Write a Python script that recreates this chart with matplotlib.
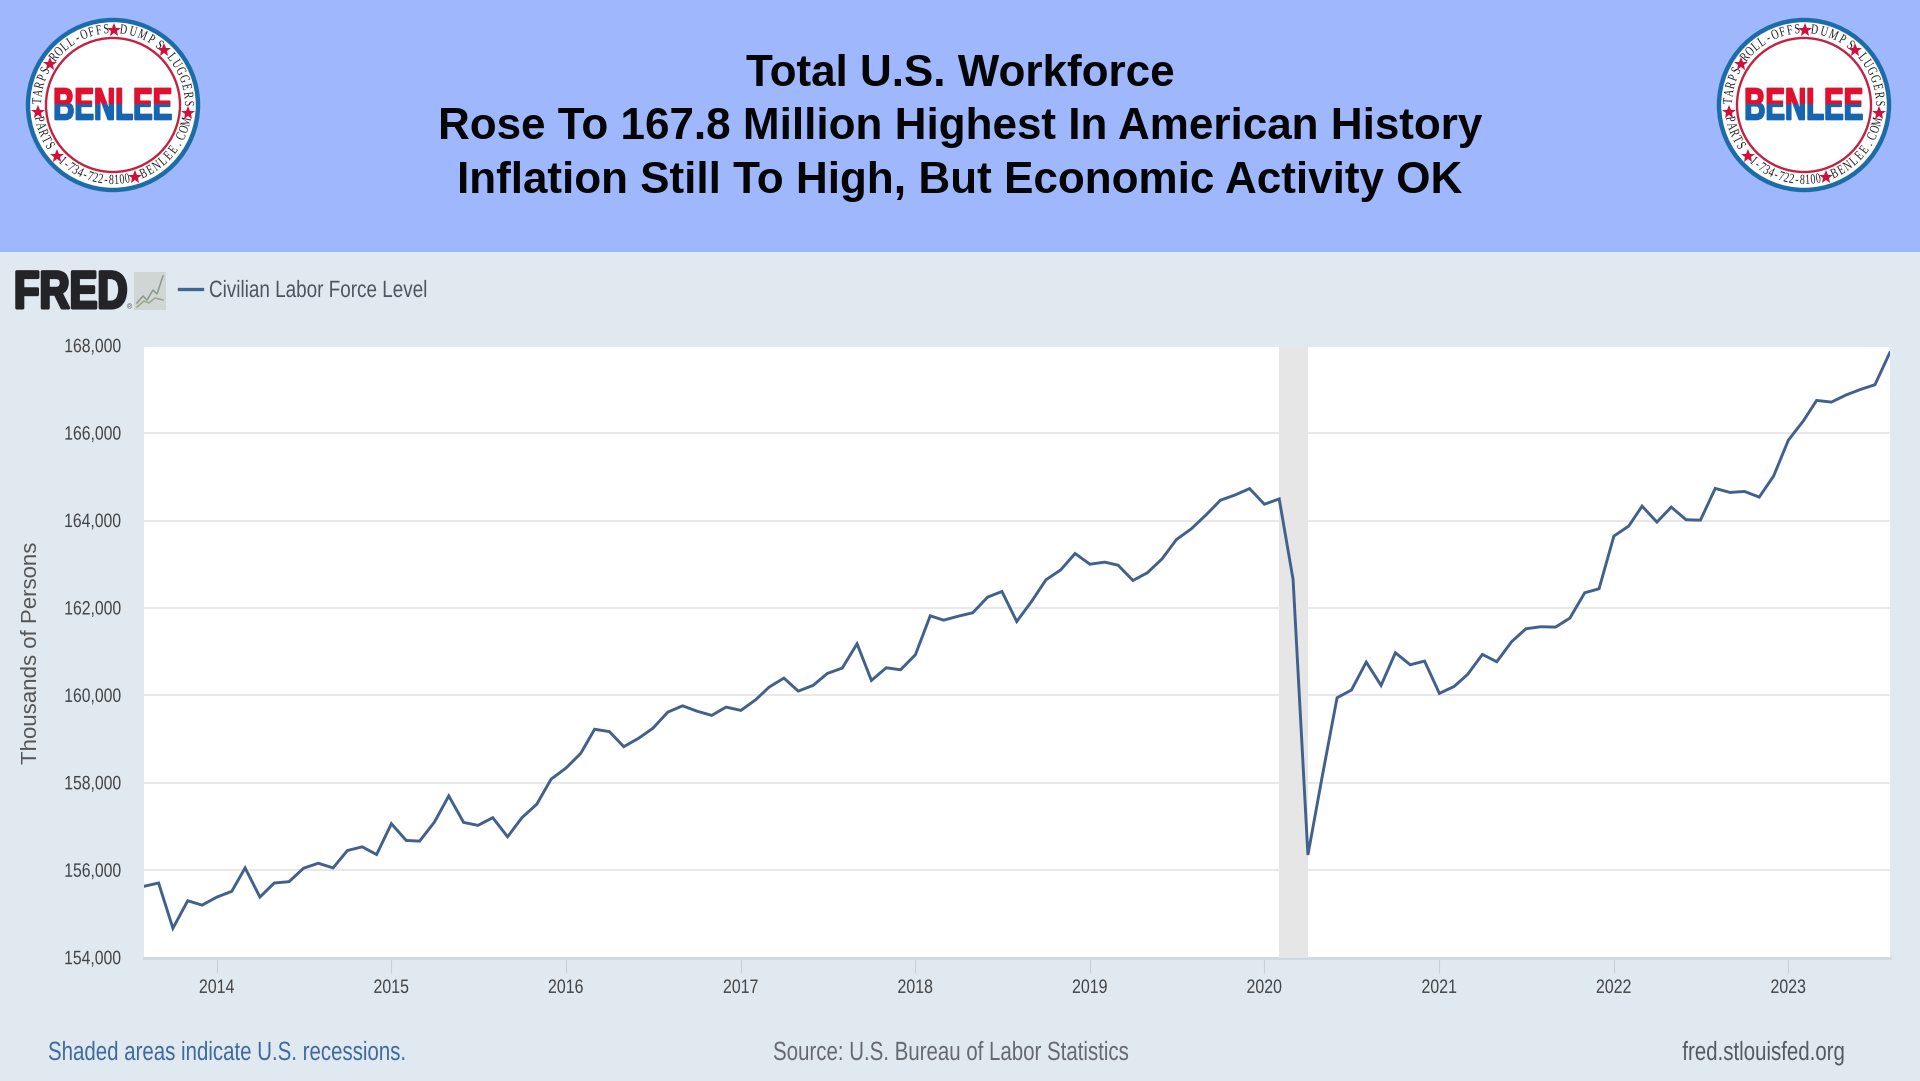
# Total U.S. workforce slide: FRED civilian labor force chart with a BENLEE header
import numpy as np
import pandas as pd
import matplotlib
matplotlib.use('Agg')
import matplotlib.pyplot as plt
from matplotlib.patches import Circle, Rectangle
from matplotlib.patheffects import AbstractPathEffect
from matplotlib.transforms import Affine2D, Bbox

# monthly values, thousands of persons, Aug 2013 - Aug 2023
labor_force = [
    155632, 155709, 154674, 155303, 155203, 155387, 155517, 156054, 155387, 155709, 155739,
    156046, 156161, 156054, 156452, 156536, 156360, 157065, 156682, 156667, 157103, 157701,
    157095, 157027, 157203, 156766, 157203, 157510, 158084, 158337, 158674, 159226, 159172,
    158828, 159019, 159249, 159617, 159762, 159640, 159543, 159733, 159657, 159901, 160190,
    160396, 160099, 160229, 160503, 160625, 161181, 160343, 160632, 160587, 160930, 161821,
    161722, 161813, 161890, 162248, 162377, 161691, 162149, 162644, 162872, 163246, 163002,
    163048, 162979, 162629, 162804, 163124, 163566, 163810, 164130, 164465, 164587, 164731,
    164373, 164495, 162650, 156350, 158150, 159947, 160122, 160762, 160229, 160976, 160701,
    160785, 160046, 160206, 160480, 160938, 160770, 161228, 161525, 161571, 161563, 161769,
    162348, 162440, 163645, 163873, 164330, 163965, 164308, 164018, 164010, 164735, 164643,
    164666, 164537, 165017, 165840, 166275, 166748, 166710, 166870, 167000, 167107, 167838,
]
dates = pd.date_range('2013-08-01', periods=len(labor_force), freq='MS')
year_ticks = pd.to_datetime(['%d-01-01' % y for y in range(2014, 2024)])
year_labels = [str(y) for y in range(2014, 2024)]
y_ticks = [154000, 156000, 158000, 160000, 162000, 164000, 166000, 168000]
recession = ['2020-02-01', '2020-04-01']

title_lines = ['Total U.S. Workforce',
               'Rose To 167.8 Million Highest In American History',
               'Inflation Still To High, But Economic Activity OK']
# logo ring words: text, start angle, end angle
ring_words = [('TARPS', 177, 153), ('ROLL-OFFS', 141, 95), ('DUMPS', 82, 52), ('LUGGERS', 39, 1),
              ('BENLEE.COM', -66, -13), ('1-734-722-8100', -132, -79), ('PARTS', -169, -147)]
ring_stars = [147, 89, 47, -6, -73, -138, -175]
icon_a = [(137, 303), (143, 296), (147, 300), (153, 290), (157, 294), (163, 276)]
icon_b = [(137, 307), (144, 301), (149, 303), (155, 298), (163, 300)]

W, H = 1920, 1081
HEADER = '#9fb7fd'
PANEL = '#e1e9f0'
LINE = '#41618c'
SANS = ['Liberation Sans', 'DejaVu Sans']
SERIF = ['Liberation Serif', 'DejaVu Serif']


class Squeeze(AbstractPathEffect):
    # the reference text is squashed sideways, no narrow font is installed
    def __init__(self, sx, anchor=0.0, bold=0.0):
        self.sx = sx
        self.anchor = anchor
        self.bold = bold

    def draw_path(self, renderer, gc, tpath, affine, rgbFace=None):
        w = tpath.get_extents().x1 * self.anchor
        aff = Affine2D().translate(-w, 0).scale(self.sx, 1).translate(w, 0) + affine
        gc0 = renderer.new_gc()
        gc0.copy_properties(gc)
        if self.bold:
            gc0.set_linewidth(self.bold)
            gc0.set_foreground(rgbFace)
        renderer.draw_path(gc0, tpath, aff, rgbFace)
        gc0.restore()


class TwoTone(Squeeze):
    # logo name: red over blue, split at the middle of the letters
    def draw_path(self, renderer, gc, tpath, affine, rgbFace=None):
        w = tpath.get_extents().x1 * self.anchor
        aff = Affine2D().translate(-w, 0).scale(self.sx, 1).translate(w, 0) + affine
        box = tpath.transformed(aff).get_extents()
        mid = (box.y0 + box.y1) / 2
        parts = [('#e0102f', mid, box.y1 + 3), ('#1765b0', box.y0 - 3, mid)]
        for color, low, high in parts:
            gc0 = renderer.new_gc()
            gc0.copy_properties(gc)
            gc0.set_linewidth(self.bold)
            gc0.set_foreground(color)
            gc0.set_clip_rectangle(Bbox([[box.x0 - 3, low], [box.x1 + 3, high]]))
            renderer.draw_path(gc0, tpath, aff, matplotlib.colors.to_rgb(color))
            gc0.restore()


fig = plt.figure(figsize=(W / 100, H / 100), dpi=100, facecolor=PANEL)

# background layer in pixel coordinates
bg = fig.add_axes([0, 0, 1, 1], zorder=1)
bg.set_xlim(0, W)
bg.set_ylim(H, 0)
bg.axis('off')
bg.add_patch(Rectangle((0, 0), W, 252, color=HEADER, lw=0))

for i, line in enumerate(title_lines):
    bg.text(960, 75 + i * 53, line, ha='center', va='center', fontsize=31.7,
            fontweight='bold', family=SANS, color='#050505')


def draw_logo(cx, cy):
    bg.add_patch(Circle((cx, cy), 85, fc='white', ec='#1c6ca8', lw=3.2))
    bg.add_patch(Circle((cx, cy), 67, fc='white', ec='#c4203f', lw=1.7))
    for word, a0, a1 in ring_words:
        angles = np.linspace(a0, a1, len(word))
        for ch, a in zip(word, angles):
            r = np.radians(a)
            x = cx + 75.5 * np.cos(r)
            y = cy - 75.5 * np.sin(r)
            rot = a - 90 if a0 > a1 else a + 90
            bg.text(x, y, ch, ha='center', va='center', rotation=rot, fontsize=10,
                    family=SERIF, color='#222222', rotation_mode='anchor',
                    path_effects=[Squeeze(0.72, 0.5)])
    for a in ring_stars:
        r = np.radians(a)
        bg.plot(cx + 75.5 * np.cos(r), cy - 75.5 * np.sin(r), marker='*', ms=10,
                color='#d0103a', mew=0, zorder=4)
    bg.text(cx, cy + 3, 'BENLEE', ha='center', va='center', fontsize=32.5,
            fontweight='bold', family=SANS, color='#e0102f',
            path_effects=[TwoTone(0.65, 0.5, bold=1.2)])


draw_logo(113, 105)
draw_logo(1804, 105)

# FRED badge and legend
bg.add_patch(Rectangle((134, 272), 32, 38, color='#cfd6d4', lw=0))
bg.plot(*zip(*icon_a), color='#8a9a90', lw=1.1)
bg.plot(*zip(*icon_b), color='#9aa884', lw=1.1)
bg.text(14, 294, 'FRED', ha='left', va='center', fontsize=38, fontweight='bold',
        family=SANS, color='#222428', path_effects=[Squeeze(0.79, bold=2.2)])
bg.text(127, 308, '®', ha='left', va='center', fontsize=5, family=SANS, color='#444444')
bg.plot([179, 202], [289, 289], color='#3f6592', lw=2.4)
bg.text(209, 291, 'Civilian Labor Force Level', ha='left', va='center', fontsize=17,
        family=SANS, color='#4d5560', path_effects=[Squeeze(0.8)])

# footer
bg.text(48, 1053, 'Shaded areas indicate U.S. recessions.', ha='left', va='center',
        fontsize=19, family=SANS, color='#3e6a9e', path_effects=[Squeeze(0.775)])
bg.text(951, 1053, 'Source: U.S. Bureau of Labor Statistics', ha='center', va='center',
        fontsize=19, family=SANS, color='#666a6e', path_effects=[Squeeze(0.775, 0.5)])
bg.text(1845, 1053, 'fred.stlouisfed.org', ha='right', va='center',
        fontsize=19, family=SANS, color='#555a60', path_effects=[Squeeze(0.775, 1.0)])

# chart
ax = fig.add_axes([143.75 / W, (H - 957.7) / H, 1746 / W, 612 / H], zorder=2)
ax.set_facecolor('white')
ax.plot(dates, labor_force, color=LINE, lw=2.1, zorder=4, solid_joinstyle='miter')
ax.axvspan(pd.Timestamp(recession[0]), pd.Timestamp(recession[1]), color='#e6e6e6', lw=0, zorder=3)
ax.set_xlim(dates[0], dates[-1])
ax.set_ylim(154000, 168000)

ax.set_yticks(y_ticks)
ax.set_yticklabels(['{:,}'.format(v) for v in y_ticks], family=SANS, fontsize=14, color='#444444')
ax.set_xticks(year_ticks)
ax.set_xticklabels(year_labels, family=SANS, fontsize=14, color='#444444')
for t in ax.get_yticklabels():
    t.set_path_effects([Squeeze(0.81, 1.0)])
    t.set_y(t.get_position()[1])
for t in ax.get_xticklabels():
    t.set_path_effects([Squeeze(0.82, 0.5)])
ax.tick_params(axis='y', length=0, pad=16)
ax.tick_params(axis='x', length=11, width=0.8, color='#c5d0dc', pad=5)
ax.grid(axis='y', color='#e8e8e8', lw=1.5, zorder=1)
ax.set_axisbelow(True)
for side in ['top', 'left', 'right']:
    ax.spines[side].set_visible(False)
ax.spines['bottom'].set_color('#ced6e0')
ax.spines['bottom'].set_linewidth(1.8)

ax.set_ylabel('Thousands of Persons', family=SANS, fontsize=16, color='#555555')
ax.yaxis.set_label_coords(-0.0585, 0.498)

fig.savefig('out.png', dpi=100, facecolor=PANEL)
